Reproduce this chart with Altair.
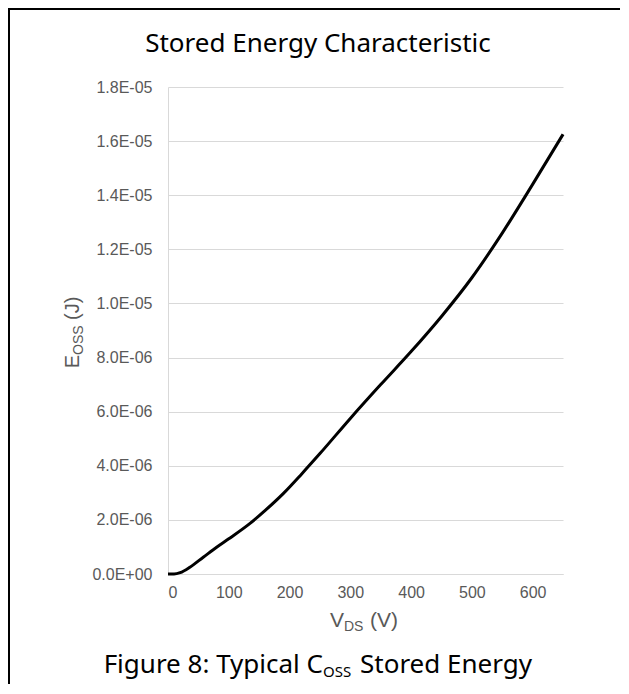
import altair as alt
import pandas as pd

# ---- data ----
vds = [0, 10, 20, 36, 58, 80, 100, 135, 160, 190, 220, 250, 300, 350, 400,
       450, 500, 550, 600, 650]
eoss_uJ = [0.0, 0.0, 0.05, 0.25, 0.62, 0.99, 1.30, 1.87, 2.35, 2.98, 3.70, 4.45,
           5.75, 7.00, 8.22, 9.52, 10.95, 12.60, 14.40, 16.25]
eoss = [v * 1e-6 for v in eoss_uJ]

x_ticks = [0, 100, 200, 300, 400, 500, 600]
y_ticks = [0, 2e-6, 4e-6, 6e-6, 8e-6, 1e-5, 1.2e-5, 1.4e-5, 1.6e-5, 1.8e-5]
y_labels = ["0.0E+00", "2.0E-06", "4.0E-06", "6.0E-06", "8.0E-06",
            "1.0E-05", "1.2E-05", "1.4E-05", "1.6E-05", "1.8E-05"]

title_text = "Stored Energy Characteristic"
caption_parts = ["Figure 8: Typical C", "OSS", "Stored Energy"]
xtitle_parts = ["V", "DS", "(V)"]
ytitle_parts = ["E", "OSS", "(J)"]

df = pd.DataFrame({"vds": vds, "eoss": eoss})

W, H = 395, 487
PAD_L, PAD_T = 160, 79
SVG_W, SVG_H = 612, 676

label_expr = " : ".join(
    f"abs(datum.value - {v}) < 1e-10 ? '{l}'" for v, l in zip(y_ticks, y_labels)
) + " : ''"

TFONT = "Noto Sans"
AFONT = "Liberation Sans"
GRID = "#d9d9d9"
LBL = "#595959"

line = alt.Chart(df).mark_line(color="black", strokeWidth=3, interpolate="monotone").encode(
    x=alt.X("vds:Q", scale=alt.Scale(domain=[0, 650], nice=False),
            axis=alt.Axis(values=x_ticks, title=None, grid=False, ticks=False,
                          labelFont=AFONT, labelFontSize=16, labelColor=LBL,
                          labelPadding=10, domainColor=GRID, domainWidth=1)),
    y=alt.Y("eoss:Q", scale=alt.Scale(domain=[0, 1.8e-5], nice=False),
            axis=alt.Axis(values=y_ticks, labelExpr=label_expr, title=None,
                          grid=True, gridColor=GRID, gridWidth=1, ticks=False,
                          labelFont=AFONT, labelFontSize=16, labelColor=LBL,
                          labelPadding=16, domainColor=GRID, domainWidth=1)),
)


def txt(s, x, y, size, font, align="left", baseline="alphabetic", angle=0, color="black"):
    kw = dict(text=s, align=align, baseline=baseline, font=font, fontSize=size, color=color)
    if angle:
        kw["angle"] = angle
    return alt.Chart(df.head(1)).mark_text(**kw).encode(x=alt.value(x), y=alt.value(y))


layers = [line]
# chart title
layers.append(txt(title_text, 150, -35, 26, TFONT, align="center"))
# x axis title  V_DS (V)
xa = 176
layers.append(txt(xtitle_parts[0], xa, H + 53, 21, AFONT, align="right", color=LBL))
layers.append(txt(xtitle_parts[1], xa, H + 57, 14, AFONT, align="left", color=LBL))
layers.append(txt(xtitle_parts[2], xa + 26, H + 53, 21, AFONT, align="left", color=LBL))
# y axis title E_OSS (J), rotated
ya = 268
layers.append(txt(ytitle_parts[0], -89, ya, 20, AFONT, align="right", angle=270, color=LBL))
layers.append(txt(ytitle_parts[1], -85, ya, 14, AFONT, align="left", angle=270, color=LBL))
layers.append(txt(ytitle_parts[2], -89, ya - 35, 20, AFONT, align="left", angle=270, color=LBL))
# caption  Figure 8: Typical C_OSS Stored Energy
ca = 155
layers.append(txt(caption_parts[0], ca, H + 99, 26, TFONT, align="right"))
layers.append(txt(caption_parts[1], ca, H + 103, 15, TFONT, align="left"))
layers.append(txt(caption_parts[2], ca + 37, H + 99, 26, TFONT, align="left"))
# frame lines (table border)
layers.append(alt.Chart(df.head(1)).mark_rule(color="black", strokeWidth=2).encode(
    x=alt.value(-PAD_L), x2=alt.value(SVG_W - PAD_L), y=alt.value(1 - PAD_T)))
layers.append(alt.Chart(df.head(1)).mark_rule(color="black", strokeWidth=2).encode(
    x=alt.value(1 - PAD_L), y=alt.value(-PAD_T), y2=alt.value(SVG_H - PAD_T)))

chart = alt.layer(*layers).properties(
    width=W, height=H,
    autosize=alt.AutoSizeParams(type="none"),
    padding={"left": PAD_L, "top": PAD_T, "right": SVG_W - PAD_L - W, "bottom": SVG_H - PAD_T - H},
).configure_view(stroke=None)

chart.save("out.html", embed_options={"renderer": "svg", "actions": False})
